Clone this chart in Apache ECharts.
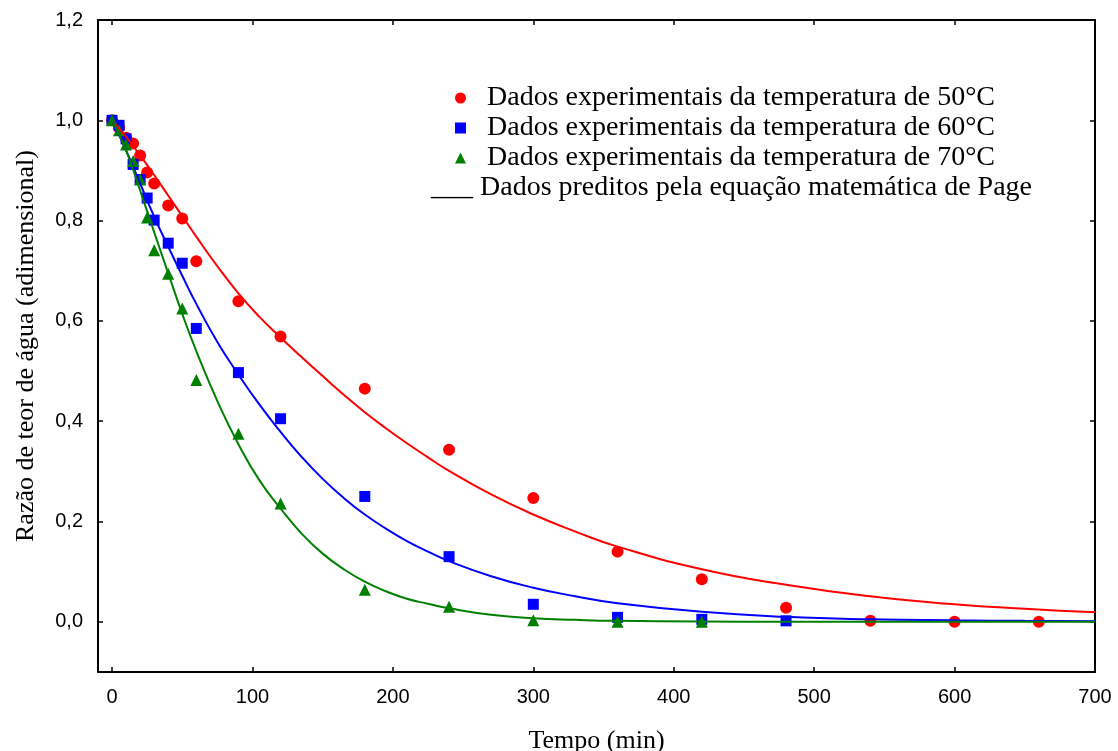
<!DOCTYPE html>
<html><head><meta charset="utf-8">
<script src="https://cdn.jsdelivr.net/npm/echarts@6/dist/echarts.min.js"></script>
<style>html,body{margin:0;padding:0;background:#fff;overflow:hidden}#c{width:1118px;height:751px}</style>
</head><body><div id="c"></div>
<script>
// Tick labels
const xTicks = [0, 100, 200, 300, 400, 500, 600, 700];
const yTicks = [0, 0.2, 0.4, 0.6, 0.8, 1.0, 1.2];

// Legend / series names
const name50 = 'Dados experimentais da temperatura de 50°C';
const name60 = 'Dados experimentais da temperatura de 60°C';
const name70 = 'Dados experimentais da temperatura de 70°C';
const nameFit = '___ Dados preditos pela equação matemática de Page';

// Experimental data (time in min, moisture ratio)
const time50 = [0, 5, 10, 15, 20, 25, 30, 40, 50, 60, 90, 120, 180, 240, 300, 360, 420, 480, 540, 600, 660];
const mr50   = [1.0, 0.985, 0.965, 0.954, 0.93, 0.896, 0.874, 0.83, 0.804, 0.719, 0.639, 0.569, 0.465, 0.343, 0.247, 0.14, 0.085, 0.028, 0.002, 0.0, 0.0];
const time60 = [0, 5, 10, 15, 20, 25, 30, 40, 50, 60, 90, 120, 180, 240, 300, 360, 420, 480];
const mr60   = [1.0, 0.99, 0.963, 0.912, 0.882, 0.845, 0.801, 0.755, 0.715, 0.585, 0.497, 0.405, 0.25, 0.13, 0.035, 0.009, 0.005, 0.002];
const time70 = [0, 5, 10, 15, 20, 25, 30, 40, 50, 60, 90, 120, 180, 240, 300, 360, 420];
const mr70   = [1.0, 0.98, 0.952, 0.919, 0.882, 0.806, 0.741, 0.694, 0.625, 0.482, 0.375, 0.236, 0.064, 0.03, 0.003, 0.0, 0.0];

// Predicted (Page model) curves
const fitTime = [0, 10, 20, 30, 40, 50, 60, 75, 90, 105, 120, 135, 150, 165, 180, 195, 210, 225, 240, 270, 300, 330, 360, 420, 480, 540, 600, 650, 700];
const fit50 = [1.0, 0.967, 0.93, 0.891, 0.85, 0.809, 0.768, 0.709, 0.655, 0.608, 0.567, 0.528, 0.49, 0.453, 0.418, 0.386, 0.356, 0.328, 0.301, 0.254, 0.214, 0.18, 0.15, 0.105, 0.074, 0.051, 0.035, 0.026, 0.019];
const fit60 = [1.0, 0.94, 0.874, 0.808, 0.748, 0.69, 0.634, 0.558, 0.493, 0.433, 0.379, 0.329, 0.285, 0.247, 0.214, 0.186, 0.161, 0.14, 0.121, 0.091, 0.068, 0.051, 0.037, 0.02, 0.01, 0.005, 0.003, 0.002, 0.001];
const fit70 = [1.0, 0.94, 0.86, 0.777, 0.695, 0.614, 0.54, 0.44, 0.354, 0.282, 0.226, 0.176, 0.136, 0.105, 0.08, 0.061, 0.046, 0.036, 0.027, 0.014, 0.007, 0.004, 0.002, 0.0005, 0.0, 0.0, 0.0, 0.0, 0.0];

const pair = (xs, ys) => xs.map((x, i) => [x, ys[i]]);
const fmtY = v => v.toFixed(1).replace('.', ',');

const chart = echarts.init(document.getElementById('c'), null, {renderer: 'canvas'});

const axisLine = {show: true, onZero: false, lineStyle: {color: '#000', width: 2}};
const tickStyle = {color: '#000', width: 1.5};
const serif = '"Liberation Serif", "Times New Roman", serif';
const sans = '"Liberation Sans", Arial, sans-serif';

const option = {
  backgroundColor: '#fff',
  animation: false,
  grid: {left: 98, right: 23, top: 20, bottom: 79, show: false, outerBoundsMode: 'none', containLabel: false},
  xAxis: [
    {
      type: 'value', min: -10, max: 700, position: 'bottom',
      axisLine: axisLine,
      axisTick: {show: true, inside: true, length: 5, customValues: xTicks, lineStyle: tickStyle},
      axisLabel: {show: true, customValues: xTicks, margin: 15, fontSize: 20, fontFamily: sans, color: '#000'},
      splitLine: {show: false},
      name: 'Tempo (min)', nameLocation: 'middle', nameGap: 56,
      nameTextStyle: {fontFamily: serif, fontSize: 26, color: '#000'}
    },
    {
      type: 'value', min: -10, max: 700, position: 'top',
      axisLine: axisLine,
      axisTick: {show: true, inside: true, length: 5, customValues: xTicks, lineStyle: tickStyle},
      axisLabel: {show: false},
      splitLine: {show: false}
    }
  ],
  yAxis: [
    {
      type: 'value', min: -0.1, max: 1.2, position: 'left',
      axisLine: axisLine,
      axisTick: {show: true, inside: true, length: 5, customValues: yTicks, lineStyle: tickStyle},
      axisLabel: {show: true, customValues: yTicks, margin: 15, fontSize: 20, fontFamily: sans, color: '#000', formatter: fmtY},
      splitLine: {show: false},
      name: 'Razão de teor de água (adimensional)', nameLocation: 'middle', nameGap: 59, nameRotate: 90,
      nameTextStyle: {fontFamily: serif, fontSize: 26, color: '#000'}
    },
    {
      type: 'value', min: -0.1, max: 1.2, position: 'right',
      axisLine: axisLine,
      axisTick: {show: true, inside: true, length: 5, customValues: yTicks, lineStyle: tickStyle},
      axisLabel: {show: false},
      splitLine: {show: false}
    }
  ],
  legend: {
    data: [name50, name60, name70],
    orient: 'vertical', left: 450, top: 78,
    itemWidth: 11, itemHeight: 11, itemGap: 0,
    selectedMode: false,
    textStyle: {fontFamily: serif, fontSize: 28, color: '#000', lineHeight: 30, padding: [0, 0, 0, 16]}
  },
  graphic: [
    {type: 'text', left: 431, top: 174, style: {text: nameFit, font: '28px "Liberation Serif", "Times New Roman", serif', fill: '#000'}}
  ],
  series: [
    {name: name50, type: 'scatter', data: pair(time50, mr50), symbol: 'circle', symbolSize: 12, itemStyle: {color: '#ff0000', opacity: 1}, z: 2},
    {name: name60, type: 'scatter', data: pair(time60, mr60), symbol: 'rect', symbolSize: 11, itemStyle: {color: '#0000ff', opacity: 1}, z: 2},
    {name: name70, type: 'scatter', data: pair(time70, mr70), symbol: 'triangle', symbolSize: 12, itemStyle: {color: '#008000', opacity: 1}, z: 2},
    {name: 'Page 50', type: 'line', data: pair(fitTime, fit50), smooth: 0.5, showSymbol: false, lineStyle: {color: '#ff0000', width: 2}, itemStyle: {color: '#ff0000'}, z: 3, silent: true},
    {name: 'Page 60', type: 'line', data: pair(fitTime, fit60), smooth: 0.5, showSymbol: false, lineStyle: {color: '#0000ff', width: 2}, itemStyle: {color: '#0000ff'}, z: 3, silent: true},
    {name: 'Page 70', type: 'line', data: pair(fitTime, fit70), smooth: 0.5, showSymbol: false, lineStyle: {color: '#008000', width: 2}, itemStyle: {color: '#008000'}, z: 3, silent: true}
  ]
};
chart.setOption(option);
</script>
</body></html>
